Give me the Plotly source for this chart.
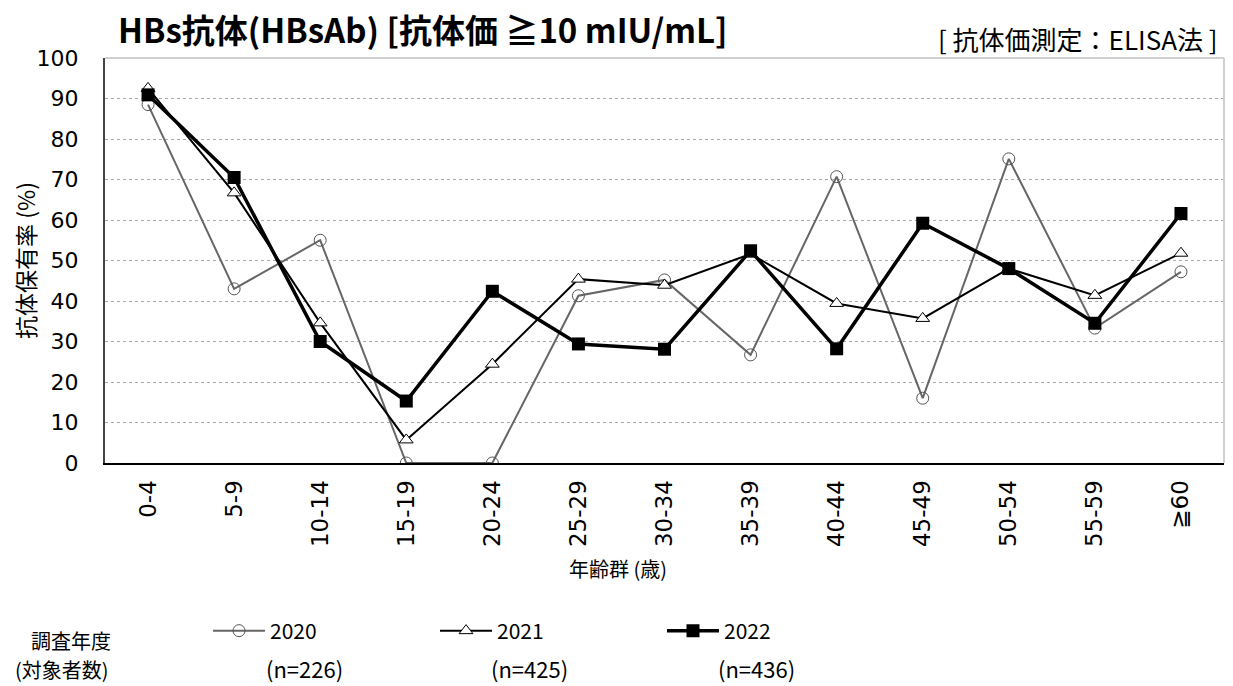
import plotly.graph_objects as go

categories = ["0-4", "5-9", "10-14", "15-19", "20-24", "25-29", "30-34",
              "35-39", "40-44", "45-49", "50-54", "55-59", "≧60"]
v2020 = [88.5, 43.0, 55.0, 0.0, 0.0, 41.3, 45.2, 26.7, 70.7, 16.0, 75.1, 33.3, 47.2]
v2021 = [92.5, 66.7, 34.6, 5.7, 24.4, 45.4, 43.9, 51.6, 39.4, 35.7, 48.0, 41.4, 51.8]
v2022 = [90.9, 70.5, 30.0, 15.3, 42.4, 29.4, 28.1, 52.4, 28.2, 59.2, 48.0, 34.5, 61.6]
years = ["2020", "2021", "2022"]
counts = ["(n=226)", "(n=425)", "(n=436)"]
yticks = list(range(0, 101, 10))

JP = "Noto Sans CJK JP"
NUM = "DejaVu Sans"

fig = go.Figure()
fig.add_trace(go.Scatter(
    x=categories, y=v2020, name=years[0], mode="lines+markers",
    line=dict(color="#666666", width=2),
    marker=dict(symbol="circle-open", size=12, color="#555555", line=dict(width=1))))
fig.add_trace(go.Scatter(
    x=categories, y=v2021, name=years[1], mode="lines+markers",
    line=dict(color="#000000", width=2),
    marker=dict(symbol="triangle-up", size=12, color="white",
                line=dict(color="#000000", width=1))))
fig.add_trace(go.Scatter(
    x=categories, y=v2022, name=years[2], mode="lines+markers",
    line=dict(color="#000000", width=3.5),
    marker=dict(symbol="square", size=13, color="#000000")))

# page body has an 8px margin; reference plot area pixels:
OFF = 8
pl, pr, pt, pb = 105, 1224, 58, 463

fig.update_layout(
    width=1233, height=686,
    margin=dict(l=pl - OFF, r=1233 - (pr - OFF), t=pt - OFF, b=686 - (pb - OFF)),
    paper_bgcolor="white", plot_bgcolor="white",
    font=dict(family=JP, color="#000000"),
    showlegend=True,
    legend=dict(orientation="h", x=(208 - pl) / (pr - pl), xanchor="left",
                y=(pb - 631) / (pb - pt), yanchor="middle",
                xref="paper", yref="paper",
                entrywidth=160, entrywidthmode="pixels",
                font=dict(family=JP, size=21, color="#000000"),
                itemwidth=52, tracegroupgap=0, bgcolor="rgba(0,0,0,0)"),
    xaxis=dict(
        type="category", categoryorder="array", categoryarray=categories,
        range=[-0.5, len(categories) - 0.5], automargin=False,
        tickangle=-90, tickfont=dict(family=NUM, size=23),
        showline=True, linecolor="#000000", linewidth=2,
        showgrid=False, ticks="", zeroline=False, ticklabelstandoff=6),
    yaxis=dict(
        range=[0, 100], tickvals=yticks, ticktext=[str(t) for t in yticks],
        tickfont=dict(family=NUM, size=22), automargin=False,
        showline=True, linecolor="#444444", linewidth=2,
        showgrid=True, gridcolor="#aaaaaa", griddash="dot", gridwidth=1,
        zeroline=False, ticks="", ticklabelstandoff=20,
        title=dict(text="抗体保有率 (%)", font=dict(family=JP, size=23), standoff=19)),
)

# light border at top and right
fig.add_shape(type="line", xref="paper", yref="paper", x0=0, x1=1, y0=1, y1=1,
              line=dict(color="#d0d0d0", width=2))
fig.add_shape(type="line", xref="paper", yref="paper", x0=1, x1=1, y0=0, y1=1,
              line=dict(color="#d0d0d0", width=2))

annotations = [
    dict(text="<b>HBs抗体(HBsAb) [抗体価 ≧10 mIU/mL]</b>",
         x=117, y=29, font=dict(family=JP, size=33), anchor="left", width=640),
    dict(text="[ 抗体価測定：ELISA法 ]", x=937, y=38,
         font=dict(family=JP, size=26), anchor="left", width=None),
    dict(text="年齢群 (歳)", x=618, y=568, font=dict(family=JP, size=20), anchor="center", width=None),
    dict(text="調査年度", x=30, y=640, font=dict(family=JP, size=20), anchor="left", width=None),
    dict(text="(対象者数)", x=14, y=669, font=dict(family=JP, size=20), anchor="left", width=None),
]
count_x = [265, 490, 717]
for cx, c in zip(count_x, counts):
    annotations.append(dict(text=c, x=cx, y=668, font=dict(family=JP, size=22),
                            anchor="left", width=None))

for a in annotations:
    fig.add_annotation(text=a["text"],
                       x=(a["x"] - pl) / (pr - pl), y=(pb - a["y"]) / (pb - pt),
                       xref="paper", yref="paper", xanchor=a["anchor"], yanchor="middle",
                       align="left", width=a["width"], borderpad=0,
                       showarrow=False, font=a["font"])

fig.write_html("out.html")
